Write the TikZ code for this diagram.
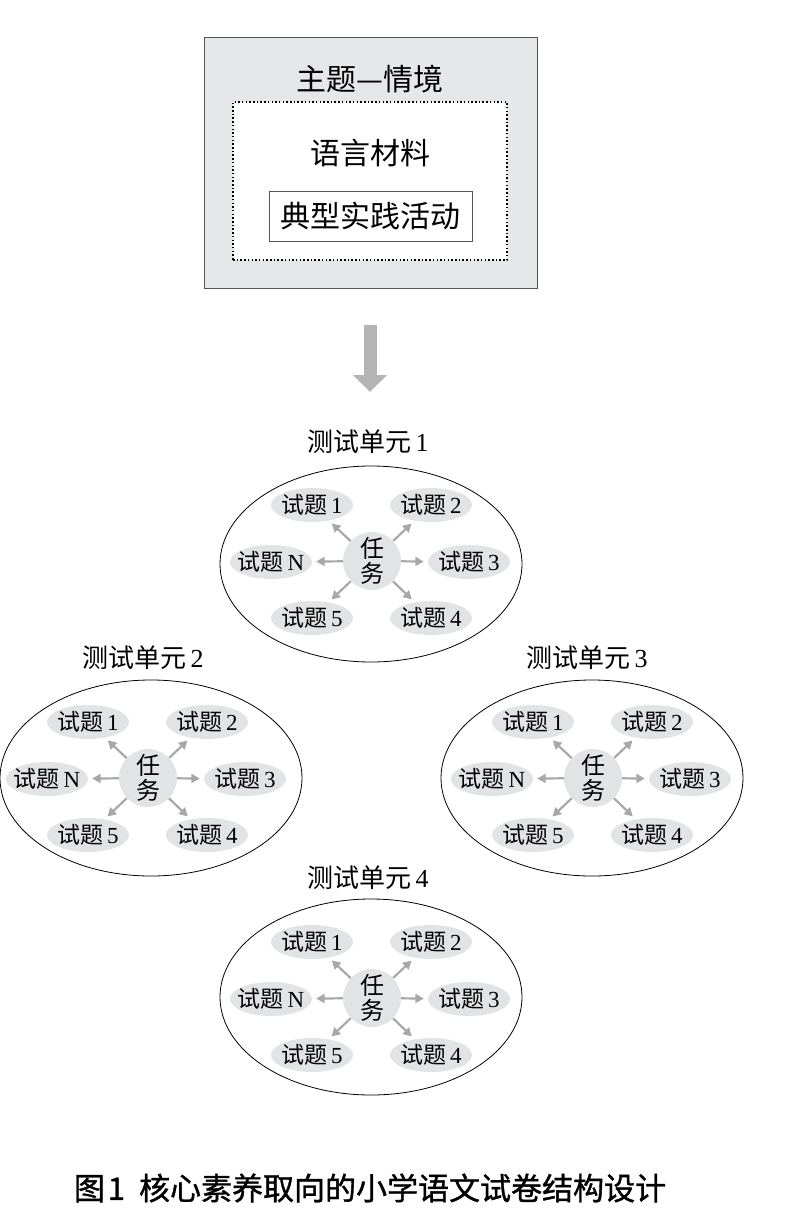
\documentclass[tikz,border=0pt]{standalone}
\usepackage{fontspec}
\setmainfont{Liberation Serif}
\newfontfamily\cjk{Noto Sans CJK SC}
\usetikzlibrary{shapes.geometric,arrows.meta}
\definecolor{boxgray}{HTML}{E6E7E8}
\definecolor{itemgray}{HTML}{E2E3E4}
\definecolor{arrgray}{HTML}{A8A8A8}
\definecolor{bigarr}{HTML}{B4B4B5}
\definecolor{edgegray}{HTML}{555555}
\newcommand{\itemtxt}[1]{\makebox[0pt]{\raisebox{-0.36em}[0pt][0pt]{{\cjk 试题}\,#1}}}
\begin{document}
\begin{tikzpicture}[x=1pt,y=-1pt,
  itemnode/.style={ellipse, fill=itemgray, minimum width=82pt, minimum height=34pt, inner sep=0pt, font=\fontsize{23}{23}\selectfont},
  tasknode/.style={circle, fill=itemgray, minimum size=58pt, inner sep=0pt, align=center, font=\cjk\fontsize{24}{25}\selectfont},
  unitnode/.style={ellipse, draw, line width=0.8pt, minimum width=302pt, minimum height=196pt, inner sep=0pt},
  titlenode/.style={font=\fontsize{26}{26}\selectfont, inner sep=0pt},
  arr/.style={draw=arrgray, line width=2.2pt, -{Triangle[length=8.5pt,width=9pt]}, shorten >=4pt},
  bigarrow/.style={draw=bigarr, line width=13pt, -{Triangle[length=17pt,width=33pt]}},
  toptext/.style={font=\cjk\fontsize{30}{30}\selectfont, inner sep=0pt}
]
\useasboundingbox (0,0) rectangle (800,1230);
% top box
\node[draw=edgegray, line width=0.9pt, fill=boxgray, minimum width=333pt, minimum height=251pt, inner sep=0pt] (outer) at (370.5,162.5) {};
\node[draw=black, line width=1.5pt, dash pattern=on 1.5pt off 2.2pt, fill=white, minimum width=274pt, minimum height=158pt, inner sep=0pt] (dotbox) at (370,181) {};
\node[toptext] (theme) at (370,79) {主题—情境};
\node[toptext] (mat) at (370,153) {语言材料};
\node[draw=edgegray, line width=0.8pt, fill=white, minimum width=203pt, minimum height=50pt, inner sep=0pt, font=\cjk\fontsize{30}{30}\selectfont] (act) at (370.5,216) {典型实践活动};
% big arrow
\coordinate (as) at (370,325);
\coordinate (ae) at (370,392);
\draw[bigarrow] (as) -- (ae);
% units
\foreach \u/\cx/\cy/\ex/\ey/\hx/\hy in {1/372/561/371/564/368/442, 2/148/778/151/778/143/658, 3/593/778/592/778/587/658, 4/372/998/371/997/368/878} {
  \node[unitnode] (u\u) at (\ex,\ey) {};
  \node[titlenode] (h\u) at (\hx,\hy) {{\cjk 测试单元}\,\u};
  \node[tasknode] (t\u) at (\cx,\cy) {任\\务};
  \node[itemnode] (i\u-1) at (\cx-60,\cy-56) {\itemtxt{1}};
  \node[itemnode] (i\u-2) at (\cx+59,\cy-56) {\itemtxt{2}};
  \node[itemnode] (i\u-N) at (\cx-101,\cy+1) {\itemtxt{N}};
  \node[itemnode] (i\u-3) at (\cx+97,\cy+1) {\itemtxt{3}};
  \node[itemnode] (i\u-5) at (\cx-60,\cy+57) {\itemtxt{5}};
  \node[itemnode] (i\u-4) at (\cx+59,\cy+57) {\itemtxt{4}};
  \draw[arr] (t\u) -- (i\u-1);
  \draw[arr] (t\u) -- (i\u-2);
  \draw[arr] (t\u) -- (i\u-N);
  \draw[arr] (t\u) -- (i\u-3);
  \draw[arr] (t\u) -- (i\u-5);
  \draw[arr] (t\u) -- (i\u-4);
}
% caption
\node[font=\cjk\fontsize{31}{31}\selectfont\addfontfeature{FakeBold=1.2}, inner sep=0pt] (cap) at (370,1188) {图\hspace{3pt}1\hspace{14pt}核心素养取向的小学语文试卷结构设计};
\end{tikzpicture}
\end{document}
